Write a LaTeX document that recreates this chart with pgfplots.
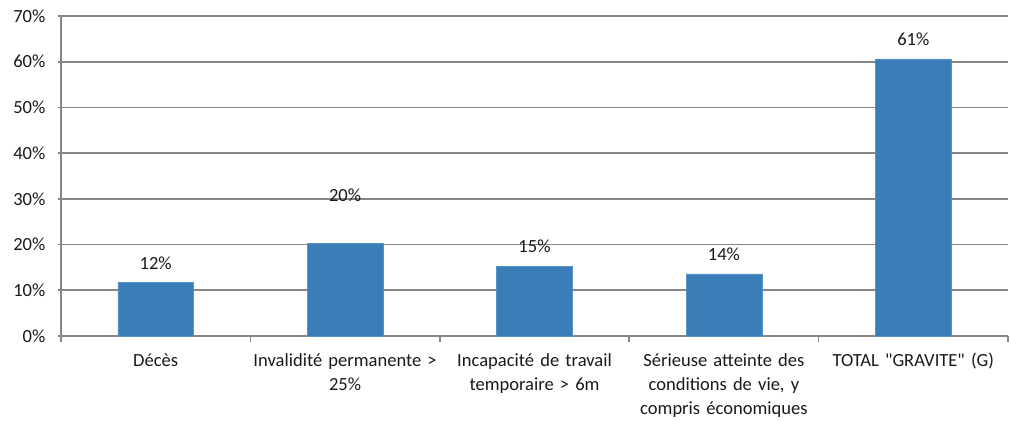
\documentclass[border=0pt]{standalone}
\usepackage{fontspec}
\setmainfont{Carlito}
% same face without the TeX input mapping, for straight quotation marks
\newfontfamily\plainquote{Carlito}
\usepackage{pgfplots}
\pgfplotsset{compat=1.18}

\definecolor{barblue}{RGB}{58,126,185}
\definecolor{gridgray}{RGB}{134,134,134}

\begin{document}
\begin{tikzpicture}[x=1pt,y=1pt]
\begin{axis}[
  scale only axis,
  width=710.25pt, height=240pt,
  xmin=-0.5, xmax=4.5,
  ymin=0, ymax=70,
  ytick={0,10,...,70},
  yticklabel={\pgfmathprintnumber[assume math mode=true]{\tick}\%},
  xtick={0,1,2,3,4},
  xticklabels={
    Décès,
    {Invalidité permanente >\\25\%},
    {Incapacité de travail\\temporaire > 6m},
    {Sérieuse atteinte des\\conditions de vie, y\\compris économiques},
    {\plainquote TOTAL "GRAVITE" (G)}},
  minor xtick={-0.5,0.5,1.5,2.5,3.5,4.5},
  major x tick style={draw=none},
  tick align=outside,
  major tick length=4.5pt,
  minor tick length=4.5pt,
  every tick/.style={gridgray, line width=1.2pt},
  axis x line=bottom, axis y line=left,
  axis line style={gridgray, line width=1.2pt, -},
  ymajorgrids,
  major grid style={gridgray, line width=1.2pt},
  ticklabel style={font=\fontsize{13.9}{18}\selectfont, text=black!90},
  xticklabel style={align=center, text width=145pt, yshift=-5pt},
  yticklabel style={xshift=-6pt},
  ybar, bar width=0.4, bar shift=0pt,
  clip=false,
]
% bars whose value labels sit just above the bar
\addplot[fill=barblue, draw=barblue!85!white,
  nodes near coords={\pgfmathprintnumber[fixed,precision=0,assume math mode=true]{\pgfplotspointmeta}\%},
  nodes near coords style={font=\fontsize{13.9}{16}\selectfont, text=black!90, anchor=base, yshift=10pt, inner sep=0pt},
] coordinates {(0,11.65) (2,15.3) (3,13.6) (4,60.6)};
% the second bar carries its label higher up
\addplot[fill=barblue, draw=barblue!85!white,
  nodes near coords={\pgfmathprintnumber[fixed,precision=0,assume math mode=true]{\pgfplotspointmeta}\%},
  nodes near coords style={font=\fontsize{13.9}{16}\selectfont, text=black!90, anchor=base, yshift=31.5pt, inner sep=0pt},
] coordinates {(1,20.3)};
\coordinate (SW) at (rel axis cs:0,0);
\coordinate (NE) at (rel axis cs:1,1);
\end{axis}
\pgfresetboundingbox
\path[use as bounding box] ([xshift=-45.75pt, yshift=-63.75pt]SW) rectangle ([xshift=1.5pt, yshift=12pt]NE);
\end{tikzpicture}
\end{document}
